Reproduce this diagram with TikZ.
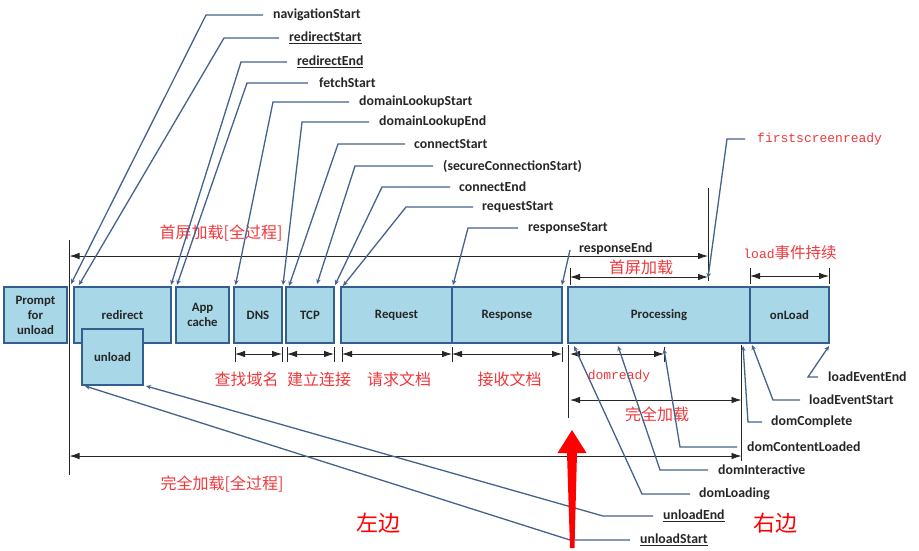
\documentclass[tikz,border=0pt]{standalone}
\usepackage{fontspec}
\setmainfont{Carlito}
\newfontfamily\cjk{Noto Sans CJK SC}
\newfontfamily\monofam{Liberation Mono}
\usetikzlibrary{arrows.meta,calc}

\definecolor{boxfill}{RGB}{168,216,232}
\definecolor{boxline}{RGB}{52,94,142}
\definecolor{leadc}{RGB}{68,98,140}
\definecolor{redc}{RGB}{238,56,60}
\definecolor{bigred}{RGB}{255,0,0}

\tikzset{
  stage/.style={draw=boxline, fill=boxfill, line width=1.8pt, align=center,
    inner sep=0pt, minimum height=56pt,
    font=\bfseries\fontsize{12.8}{15}\selectfont, text=black!85},
  lbl/.style={anchor=west, inner sep=0pt,
    font=\bfseries\fontsize{13.8}{16}\selectfont, text=black!85},
  leader/.style={draw=leadc, line width=1.3pt,
    -{Stealth[length=5pt,width=4.5pt]}},
  span/.style={line width=0.8pt, draw=black!85,
    {Latex[length=10pt,width=6.5pt]}-{Latex[length=10pt,width=6.5pt]}},
  tick/.style={line width=0.8pt, draw=black!85},
  note/.style={text=redc, inner sep=0pt, font=\cjk\fontsize{16}{18}\selectfont},
  mnote/.style={text=redc, inner sep=0pt, font=\monofam\fontsize{13}{15}\selectfont},
  side/.style={text=bigred, inner sep=0pt, font=\cjk\fontsize{22}{24}\selectfont},
}

\begin{document}
\begin{tikzpicture}[x=1pt,y=-1pt]
\useasboundingbox (0,0) rectangle (919,550);

% ---- time marks and spans ----
\coordinate (v0top) at (69.5,240);
\coordinate (v0bot) at (69.5,475);
\draw[tick] (v0top) -- (v0bot);
\coordinate (vfsTop) at (708,188);
\coordinate (vfsBot) at (708,281);
\draw[tick] (vfsTop) -- (vfsBot);

\coordinate (a0) at (69.5,256);
\coordinate (a1) at (708,256);
\draw[span] (a0) -- (a1);
\node[note] (fsAll) at (221,233) {首屏加载[全过程]};

% first screen span
\coordinate (fs0) at (570,277);
\coordinate (fs1) at (708,277);
\draw[tick] (570,268) -- (570,285);
\draw[span] (fs0) -- (fs1);
\node[note] (fsLbl) at (641,267) {首屏加载};

% load event span
\coordinate (ld0) at (750,276);
\coordinate (ld1) at (829,276);
\draw[tick] (750,268) -- (750,284);
\draw[tick] (829,268) -- (829,284);
\draw[span] (ld0) -- (ld1);
\node[text=redc, inner sep=0pt] (ldLbl) at (790,253)
  {\monofam\fontsize{13}{15}\selectfont load\cjk\fontsize{15.5}{17}\selectfont 事件持续};

% ---- stages ----
\node[stage, minimum width=63pt] (prompt) at (35.5,315) {Prompt\\for\\unload};
\node[stage, minimum width=97pt] (redirect) at (122.5,315) {redirect};
\node[stage, minimum width=61pt] (unload) at (112.5,357) {unload};
\node[stage, minimum width=53pt] (appcache) at (202.5,315) {App\\cache};
\node[stage, minimum width=48pt] (dns) at (258,315) {DNS};
\node[stage, minimum width=48pt] (tcp) at (310,315) {TCP};
\node[stage, minimum width=111pt] (request) at (396.5,315) {Request};
\node[stage, minimum width=110pt] (response) at (507,315) {Response};
\node[stage, minimum width=182pt] (processing) at (659,315) {Processing};
\node[stage, minimum width=79pt] (onload) at (789.5,315) {onLoad};

% ---- spans below the network stages ----
\foreach \xa/\xb in {235/282, 287/334, 342/452, 452/562}{
  \draw[tick] (\xa,347) -- (\xa,362);
  \draw[tick] (\xb,347) -- (\xb,362);
  \draw[span] (\xa,354) -- (\xb,354);
}
\node[note] (lDns) at (246.5,379) {查找域名};
\node[note] (lTcp) at (319,379) {建立连接};
\node[note] (lReq) at (399,379) {请求文档};
\node[note] (lResp) at (509.5,379) {接收文档};

% ---- processing spans ----
\coordinate (vpTop) at (568,345);
\coordinate (vpBot) at (568,418);
\draw[tick] (vpTop) -- (vpBot);
\coordinate (vcTop) at (741.5,345);
\coordinate (vcBot) at (741.5,461);
\draw[tick] (vcTop) -- (vcBot);

\coordinate (dr0) at (570,354);
\coordinate (dr1) at (664,354);
\draw[tick] (664,347) -- (664,362);
\draw[span] (dr0) -- (dr1);
\node[mnote] (drLbl) at (619,376) {domready};

\coordinate (fl0) at (570,400);
\coordinate (fl1) at (741.5,400);
\draw[span] (fl0) -- (fl1);
\node[note] (flLbl) at (657,414) {完全加载};

\coordinate (b0) at (69.5,456);
\coordinate (b1) at (741.5,456);
\draw[span] (b0) -- (b1);
\node[note] (flAll) at (222,484) {完全加载[全过程]};

% ---- timing attributes, upper side ----
\node[lbl] (navStart) at (273,15) {navigationStart};
\node[lbl] (rdStart) at (289,38) {\underline{redirectStart}};
\node[lbl] (rdEnd) at (297,62) {\underline{redirectEnd}};
\node[lbl] (fetch) at (319,83) {fetchStart};
\node[lbl] (dlStart) at (359,102) {domainLookupStart};
\node[lbl] (dlEnd) at (379,122) {domainLookupEnd};
\node[lbl] (cStart) at (414,144) {connectStart};
\node[lbl] (secStart) at (443,166) {(secureConnectionStart)};
\node[lbl] (cEnd) at (459,187) {connectEnd};
\node[lbl] (rqStart) at (482,207) {requestStart};
\node[lbl] (rsStart) at (528,228) {responseStart};
\node[lbl] (rsEnd) at (579,249) {responseEnd};
\node[mnote, anchor=west] (fsReady) at (757,139) {firstscreenready};

\coordinate (tNav) at (71,284);
\coordinate (tRdS) at (79,285);
\coordinate (tRdE) at (171,285);
\coordinate (tFetch) at (177,285);
\coordinate (tDlS) at (235.5,285);
\coordinate (tDlE) at (283,285);
\coordinate (tCS) at (289,286);
\coordinate (tSec) at (317,284);
\coordinate (tCE) at (335,285);
\coordinate (tRqS) at (343,286);
\coordinate (tRsS) at (453,285);
\coordinate (tRsE) at (562,285);
\coordinate (tFs) at (708,278);

\draw[leader] ([xshift=-10pt]navStart.west) -- ++(-57,0) -- (tNav);
\draw[leader] ([xshift=-10pt]rdStart.west) -- ++(-55,0) -- (tRdS);
\draw[leader] ([xshift=-10pt]rdEnd.west) -- ++(-46,0) -- (tRdE);
\draw[leader] ([xshift=-11pt]fetch.west) -- ++(-61,0) -- (tFetch);
\draw[leader] ([xshift=-10pt]dlStart.west) -- ++(-76,0) -- (tDlS);
\draw[leader] ([xshift=-10pt]dlEnd.west) -- ++(-67,0) -- (tDlE);
\draw[leader] ([xshift=-9pt]cStart.west) -- ++(-67,0) -- (tCS);
\draw[leader] ([xshift=-10pt]secStart.west) -- ++(-78,0) -- (tSec);
\draw[leader] ([xshift=-9pt]cEnd.west) -- ++(-68,0) -- (tCE);
\draw[leader] ([xshift=-9pt]rqStart.west) -- ++(-67,0) -- (tRqS);
\draw[leader] ([xshift=-10pt]rsStart.west) -- ++(-50,0) -- (tRsS);
\draw[leader] ([xshift=-9pt,yshift=-1pt]rsEnd.west) -- (tRsE);
\draw[leader] ([xshift=-12pt]fsReady.west) -- ++(-18,0) -- (tFs);

% ---- timing attributes, lower side ----
\node[lbl] (leEnd) at (828,377) {loadEventEnd};
\node[lbl] (leStart) at (809,400) {loadEventStart};
\node[lbl] (dComplete) at (771,422) {domComplete};
\node[lbl] (dCL) at (747,447) {domContentLoaded};
\node[lbl] (dInter) at (718,470) {domInteractive};
\node[lbl] (dLoading) at (699,494) {domLoading};
\node[lbl] (ulEnd) at (663,516) {\underline{unloadEnd}};
\node[lbl] (ulStart) at (640,540) {\underline{unloadStart}};

\coordinate (tLeE) at (829,346);
\coordinate (tLeS) at (752,345);
\coordinate (tDC) at (743,346);
\coordinate (tDCL) at (664,349);
\coordinate (tDI) at (618,346);
\coordinate (tDL) at (574,346);
\coordinate (tUlE) at (146,386);
\coordinate (tUlS) at (85,386);

\draw[leader] ([xshift=-10pt]leEnd.west) -- ++(-10,0) -- (tLeE);
\draw[leader] ([xshift=-9pt]leStart.west) -- ++(-27,0) -- (tLeS);
\draw[leader] ([xshift=-9pt]dComplete.west) -- ++(-14,0) -- (tDC);
\draw[leader] ([xshift=-10pt]dCL.west) -- ++(-57,0) -- (tDCL);
\draw[leader] ([xshift=-10pt]dInter.west) -- ++(-48,0) -- (tDI);
\draw[leader] ([xshift=-9pt]dLoading.west) -- ++(-48,0) -- (tDL);
\draw[leader] ([xshift=-10pt]ulEnd.west) -- ++(-50,0) -- (tUlE);
\draw[leader] ([xshift=-10pt]ulStart.west) -- ++(-60,0) -- (tUlS);

% ---- split marker ----
\fill[bigred] (572,430) -- (586.5,453) -- (577,453) -- (574.5,548)
  -- (570,548) -- (567,453) -- (557.5,453) -- cycle;
\node[side] (leftSide) at (378.5,523) {左边};
\node[side] (rightSide) at (775,523) {右边};
\end{tikzpicture}
\end{document}
